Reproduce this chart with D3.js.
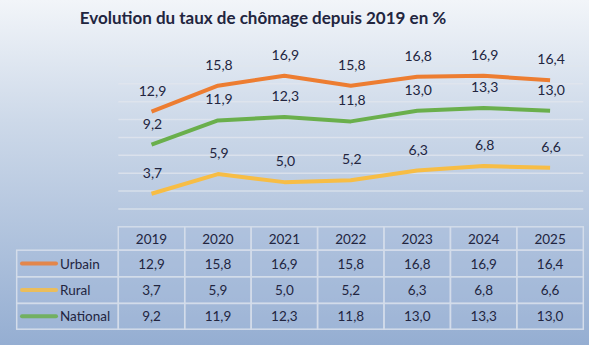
<!DOCTYPE html>
<html>
<head>
<meta charset="utf-8">
<script src="https://cdn.jsdelivr.net/npm/d3@7"></script>
<style>
  html, body { margin: 0; padding: 0; }
  svg { display: block; font-family: Lato, "Open Sans", sans-serif; }
</style>
</head>
<body>
<div id="chart"></div>
<script>
"use strict";

const years = ["2019", "2020", "2021", "2022", "2023", "2024", "2025"];
const seriesNames = ["Urbain", "Rural", "National"];
const urbain = [12.9, 15.8, 16.9, 15.8, 16.8, 16.9, 16.4];
const rural = [3.7, 5.9, 5.0, 5.2, 6.3, 6.8, 6.6];
const national = [9.2, 11.9, 12.3, 11.8, 13.0, 13.3, 13.0];
const gridTicks = [2, 4, 6, 8, 10, 12, 14, 16, 18];
const colors = ["#ed7d31", "#f7bd45", "#6aaf4c"];

const series = [urbain, rural, national].map((values, i) => ({
  name: seriesNames[i],
  color: colors[i],
  values: values
}));

const width = 589;
const height = 345;
const ink = "#22253f";
const fmt = v => d3.format(".1f")(v).replace(".", ",");

const svg = d3.select("#chart").append("svg")
  .attr("width", width)
  .attr("height", height);

// background gradient
const grad = svg.append("defs").append("linearGradient")
  .attr("id", "bg").attr("x1", 0).attr("y1", 0).attr("x2", 0).attr("y2", 1);
grad.append("stop").attr("offset", "0%").attr("stop-color", "#f2f5f9");
grad.append("stop").attr("offset", "35%").attr("stop-color", "#cdd9e9");
grad.append("stop").attr("offset", "100%").attr("stop-color", "#95aed2");
svg.append("rect").attr("width", width).attr("height", height).attr("fill", "url(#bg)");

svg.append("text")
  .attr("x", 263)
  .attr("y", 24)
  .attr("text-anchor", "middle")
  .attr("font-size", 17)
  .attr("font-weight", "bold")
  .attr("fill", ink)
  .text("Evolution du taux de chômage depuis 2019 en %");

const x = d3.scaleBand().domain(years).range([118.3, 583.3]);
const y = d3.scaleLinear().domain([0, 18]).range([226.8, 66]);
const cx = d => x(d) + x.bandwidth() / 2;

// gridlines
svg.append("g")
  .selectAll("line")
  .data(gridTicks)
  .join("line")
  .attr("x1", x.range()[0])
  .attr("x2", x.range()[1])
  .attr("y1", d => y(d))
  .attr("y2", d => y(d))
  .attr("stroke", "#e2e6ee")
  .attr("stroke-opacity", 0.75)
  .attr("stroke-width", 1.5);

const line = d3.line()
  .x((d, i) => cx(years[i]))
  .y(d => y(d));

svg.append("g")
  .selectAll("path")
  .data(series)
  .join("path")
  .attr("d", d => line(d.values))
  .attr("fill", "none")
  .attr("stroke", d => d.color)
  .attr("stroke-width", 4)
  .attr("stroke-linejoin", "round");

// data labels
series.forEach(s => {
  svg.append("g")
    .selectAll("text")
    .data(s.values)
    .join("text")
    .attr("x", (d, i) => cx(years[i]) + 1)
    .attr("y", d => y(d) - 16)
    .attr("text-anchor", "middle")
    .attr("font-size", 14)
    .attr("fill", ink)
    .text(fmt);
});

// data table
const tableTop = 226.8;
const rowH = [23.4, 26.6, 26.6, 25.8];
const rowY = [tableTop];
rowH.forEach((h, i) => rowY.push(rowY[i] + h));
const labelX = 16.7;

const table = svg.append("g");

// header cells
table.selectAll("rect.head")
  .data(years)
  .join("rect")
  .attr("class", "head")
  .attr("x", d => x(d))
  .attr("y", rowY[0])
  .attr("width", x.bandwidth())
  .attr("height", rowH[0])
  .attr("fill", "#a9bedc")
  .attr("fill-opacity", 0.35)
  .attr("stroke", "#d3dcea")
  .attr("stroke-width", 1.5);

table.selectAll("text.head")
  .data(years)
  .join("text")
  .attr("class", "head")
  .attr("x", d => cx(d))
  .attr("y", rowY[0] + rowH[0] / 2 + 5)
  .attr("text-anchor", "middle")
  .attr("font-size", 13.5)
  .attr("fill", ink)
  .text(d => d);

series.forEach((s, r) => {
  const top = rowY[r + 1];
  const h = rowH[r + 1];
  const g = table.append("g");
  g.append("rect")
    .attr("x", labelX)
    .attr("y", top)
    .attr("width", x.range()[0] - labelX)
    .attr("height", h)
    .attr("fill", "#a9bedc")
    .attr("fill-opacity", 0.35)
    .attr("stroke", "#d3dcea")
    .attr("stroke-width", 1.5);
  g.append("line")
    .attr("x1", 22).attr("x2", 56)
    .attr("y1", top + h / 2).attr("y2", top + h / 2)
    .attr("stroke", s.color)
    .attr("stroke-opacity", 0.85)
    .attr("stroke-width", 4)
    .attr("stroke-linecap", "round");
  g.append("text")
    .attr("x", 60)
    .attr("y", top + h / 2 + 5)
    .attr("font-size", 13.5)
    .attr("fill", ink)
    .text(s.name);
  g.selectAll("rect.cell")
    .data(s.values)
    .join("rect")
    .attr("class", "cell")
    .attr("x", (d, i) => x(years[i]))
    .attr("y", top)
    .attr("width", x.bandwidth())
    .attr("height", h)
    .attr("fill", "#a9bedc")
    .attr("fill-opacity", 0.35)
    .attr("stroke", "#d3dcea")
    .attr("stroke-width", 1.5);
  g.selectAll("text.cell")
    .data(s.values)
    .join("text")
    .attr("class", "cell")
    .attr("x", (d, i) => cx(years[i]))
    .attr("y", top + h / 2 + 5)
    .attr("text-anchor", "middle")
    .attr("font-size", 13.5)
    .attr("fill", ink)
    .text(fmt);
});
</script>
</body>
</html>
